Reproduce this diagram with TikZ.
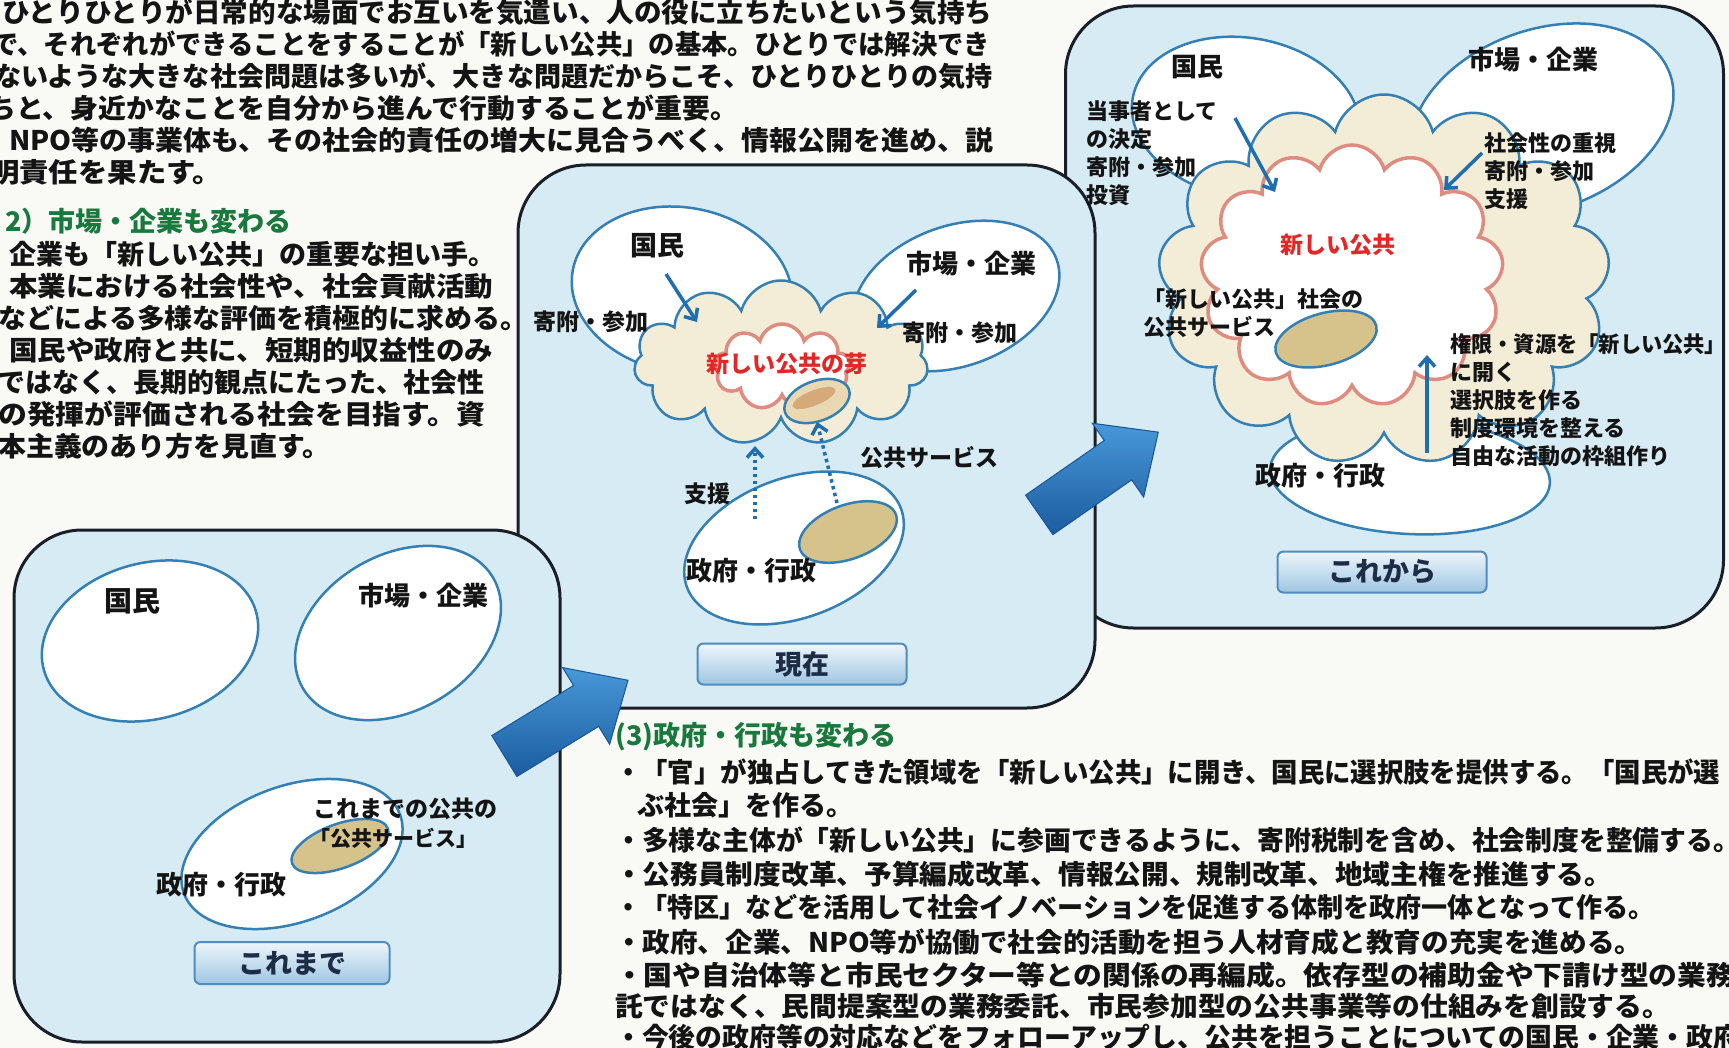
\documentclass[tikz,border=0pt]{standalone}
\usepackage{fontspec}
\usepackage{graphicx}
\setmainfont{Noto Sans CJK JP}
\usetikzlibrary{shapes.geometric,shapes.symbols,shapes.arrows,arrows.meta}
\definecolor{paper}{RGB}{249,249,246}
\definecolor{panelfill}{RGB}{214,235,243}
\definecolor{panelline}{RGB}{25,30,40}
\definecolor{ovalline}{RGB}{52,128,180}
\definecolor{cream}{RGB}{243,236,215}
\definecolor{pinkline}{RGB}{222,140,128}
\definecolor{svctan}{RGB}{214,195,140}
\definecolor{tanlight}{RGB}{234,216,178}
\definecolor{tandark}{RGB}{214,170,120}
\definecolor{arrowblue}{RGB}{31,110,176}
\definecolor{bigarrowlight}{RGB}{72,152,216}
\definecolor{bigarrowdark}{RGB}{26,92,160}
\definecolor{bigarrowline}{RGB}{25,85,150}
\definecolor{btntop}{RGB}{238,246,251}
\definecolor{btnbot}{RGB}{158,198,226}
\definecolor{btnline}{RGB}{80,140,190}
\definecolor{btntext}{RGB}{30,45,70}
\definecolor{headgreen}{RGB}{25,120,60}
\definecolor{redtext}{RGB}{228,38,38}
\definecolor{ink}{RGB}{20,20,20}
\newcommand{\fitw}[2]{\resizebox{#1pt}{\height}{#2}}
\newcommand{\jfs}[2]{\fontsize{#1}{#2}\selectfont\bfseries}
\begin{document}
\begin{tikzpicture}[x=1pt,y=-1pt,
 panel/.style={rectangle, draw=panelline, line width=3pt, fill=panelfill, rounded corners=68pt, inner sep=0pt},
 oval/.style={ellipse, draw=ovalline, line width=2.5pt, fill=white, inner sep=0pt},
 tanoval/.style={ellipse, draw=ovalline, line width=2.5pt, fill=svctan, inner sep=0pt},
 creamcloud/.style={cloud, cloud ignores aspect, draw=ovalline, line width=2.5pt, fill=cream, inner sep=0pt},
 pinkcloud/.style={cloud, cloud ignores aspect, draw=pinkline, line width=3.5pt, fill=white, inner sep=0pt},
 lbl/.style={inner sep=0pt, text=ink, font={\jfs{26}{30}}},
 small/.style={inner sep=0pt, text=ink, font={\jfs{23}{28}}, align=left},
 csmall/.style={inner sep=0pt, text=ink, font={\jfs{22}{28}}, align=left, anchor=north west},
 body/.style={inner sep=0pt, anchor=west, text=ink, font={\jfs{27}{30}}},
 head/.style={inner sep=0pt, anchor=west, text=headgreen, font={\jfs{27}{30}}},
 btn/.style={rectangle, rounded corners=6pt, draw=btnline, line width=2pt, top color=btntop, bottom color=btnbot, text=btntext, font={\jfs{27}{30}}, inner sep=0pt},
 flow/.style={draw=arrowblue, line width=3.5pt, -{Straight Barb[length=9pt,width=16pt]}},
 dots/.style={draw=arrowblue, line width=3.5pt, dash pattern=on 3.5pt off 3.5pt, -{Straight Barb[length=9pt,width=16pt]}},
 bigarrow/.style={single arrow, single arrow head extend=21pt, single arrow tip angle=85, inner xsep=0pt, inner ysep=23.5pt, minimum height=145pt, top color=bigarrowlight, bottom color=bigarrowdark, draw=bigarrowline, line width=1pt},
]
\fill[paper] (0,0) rectangle (1729,1048);
\useasboundingbox (0,0) rectangle (1729,1048);

% ---------- top-left text ----------
\node[body] (p1) at (2,12) {\fitw{990}{ひとりひとりが日常的な場面でお互いを気遣い、人の役に立ちたいという気持ち}};
\node[body] (p2) at (-8,44) {\fitw{998}{で、それぞれができることをすることが「新しい公共」の基本。ひとりでは解決でき}};
\node[body] (p3) at (-6,76) {\fitw{998}{ないような大きな社会問題は多いが、大きな問題だからこそ、ひとりひとりの気持}};
\node[body] (p4) at (-12,108) {\fitw{750}{ちと、身近かなことを自分から進んで行動することが重要。}};
\node[body] (p5) at (9,140) {\fitw{984}{NPO等の事業体も、その社会的責任の増大に見合うべく、情報公開を進め、説}};
\node[body] (p6) at (-10,172) {\fitw{232}{明責任を果たす。}};

\node[head] (h2) at (5,221) {2）市場・企業も変わる};
\node[body] (s1) at (9,254) {企業も「新しい公共」の重要な担い手。};
\node[body] (s2) at (9,286) {\fitw{484}{本業における社会性や、社会貢献活動}};
\node[body] (s3) at (-2,318) {\fitw{530}{などによる多様な評価を積極的に求める。}};
\node[body] (s4) at (9,350) {\fitw{484}{国民や政府と共に、短期的収益性のみ}};
\node[body] (s5) at (-2,382) {ではなく、長期的観点にたった、社会性};
\node[body] (s6) at (-2,414) {\fitw{487}{の発揮が評価される社会を目指す。資}};
\node[body] (s7) at (-2,446) {\fitw{332}{本主義のあり方を見直す。}};

% ---------- panel C (これから) ----------
\node[panel, minimum width=658, minimum height=622] (pC) at (1394.5,317) {};
\node[oval, minimum width=230, minimum height=160, rotate=-10] (cK) at (1246,118) {};
\node[oval, minimum width=272, minimum height=180, rotate=20] (cS) at (1542,120) {};
\node[oval, minimum width=280, minimum height=116, rotate=-3] (cG) at (1410,476) {};
\node[creamcloud, cloud puffs=13, minimum width=452, minimum height=371] (cCloud) at (1384,280) {};
\node[pinkcloud, cloud puffs=13, minimum width=303, minimum height=262] (cCore) at (1352,276) {};
\node[tanoval, minimum width=104, minimum height=52, rotate=15] (cSvc) at (1326,339) {};
\node[lbl] (cKL) at (1197,67) {国民};
\node[lbl] (cSL) at (1533,60) {市場・企業};
\node[lbl, text=redtext, font={\jfs{23}{28}}] (cCoreL) at (1338,245) {新しい公共};
\node[csmall] (cStxt) at (1484,132) {社会性の重視\\寄附・参加\\支援};
\node[csmall] (cSvcL) at (1143,288) {「新しい公共」社会の\\公共サービス};
\node[csmall] (cGtxt) at (1450,333) {\fitw{276}{権限・資源を「新しい公共」}\\に開く\\選択肢を作る\\制度環境を整える\\自由な活動の枠組作り};
\node[lbl] (cGL) at (1320,476) {政府・行政};
\coordinate (cKa) at (1235,118); \coordinate (cKb) at (1275,192);
\coordinate (cSa) at (1482,153); \coordinate (cSb) at (1444,190);
\coordinate (cGa) at (1427,453); \coordinate (cGb) at (1427,355);
\draw[flow] (cKa) -- (cKb);
\draw[flow] (cSa) -- (cSb);
\draw[flow] (cGa) -- (cGb);
\node[btn, minimum width=209, minimum height=41] (cBtn) at (1382,572) {これから};

% ---------- panel B (現在) ----------
\node[panel, minimum width=577, minimum height=543] (pB) at (806.5,436.5) {};
\node[oval, minimum width=222, minimum height=165, rotate=-10] (bK) at (682,290) {};
\node[oval, minimum width=214, minimum height=140, rotate=20] (bS) at (956,296) {};
\node[creamcloud, cloud puffs=11, minimum width=294, minimum height=165] (bCloud) at (781,363) {};
\node[pinkcloud, cloud puffs=9, minimum width=136, minimum height=86] (bCore) at (782,367) {};
\node[ellipse, draw=ovalline, line width=2.5pt, fill=tanlight, inner sep=0pt, minimum width=68, minimum height=40, rotate=20] (bSeed) at (817,401) {};
\node[ellipse, fill=tandark, inner sep=0pt, minimum width=46, minimum height=15, rotate=22] (bBean) at (814,398) {};
\node[oval, minimum width=228, minimum height=140, rotate=20] (bG) at (794,548) {};
\node[tanoval, minimum width=102, minimum height=54, rotate=20] (bSvc) at (848,532) {};
\node[lbl, font={\jfs{27}{30}}] (bKL) at (657,246) {国民};
\node[lbl] (bSL) at (971,264) {市場・企業};
\node[small] (bKd) at (591,322) {寄附・参加};
\node[small] (bSd) at (960,333) {寄附・参加};
\node[small, text=redtext] (bCoreL) at (787,364) {新しい公共の芽};
\node[small] (bSvcL) at (929,458) {公共サービス};
\node[small] (bSup) at (707,494) {支援};
\node[lbl] (bGL) at (751,571) {政府・行政};
\coordinate (bKa) at (666,274); \coordinate (bKb) at (697,322);
\coordinate (bSa) at (916,290); \coordinate (bSb) at (877,328);
\coordinate (bD1a) at (755,519); \coordinate (bD1b) at (755,446);
\coordinate (bD2a) at (837,503); \coordinate (bD2b) at (817,422);
\draw[flow] (bKa) -- (bKb);
\draw[flow] (bSa) -- (bSb);
\draw[dots] (bD1a) -- (bD1b);
\draw[dots] (bD2a) -- (bD2b);
\node[btn, minimum width=209, minimum height=41] (bBtn) at (802,664) {現在};

% ---------- panel A (これまで) ----------
\node[panel, minimum width=546, minimum height=512] (pA) at (287,786) {};
\node[oval, minimum width=220, minimum height=156, rotate=15] (aK) at (150,641) {};
\node[oval, minimum width=220, minimum height=156, rotate=30] (aS) at (398,633) {};
\node[oval, minimum width=230, minimum height=136, rotate=20] (aG) at (292,854) {};
\node[tanoval, minimum width=102, minimum height=44, rotate=20] (aSvc) at (340,846) {};
\node[lbl, font={\jfs{28}{30}}] (aKL) at (132,601) {国民};
\node[lbl] (aSL) at (423,596) {市場・企業};
\node[small] (aSvcL1) at (405,809) {これまでの公共の};
\node[small, font={\jfs{21}{26}}] (aSvcL2) at (393,838) {「公共サービス」};
\node[lbl] (aGL) at (221,885) {政府・行政};
\node[btn, minimum width=195, minimum height=42] (aBtn) at (292,963) {これまで};

% ---------- big arrows ----------
\node[bigarrow, rotate=31.5] (arAB) at (555,725) {};
\node[bigarrow, rotate=34.8] (arBC) at (1088,481) {};

% panel C left text (over panel B corner)
\node[csmall] (cKtxt) at (1086,100) {当事者として\\の決定\\寄附・参加\\投資};

% ---------- section 3 ----------
\node[head] (h3) at (615,737) {(3)政府・行政も変わる};
\node[body] (b1) at (615,772) {\fitw{1105}{・「官」が独占してきた領域を「新しい公共」に開き、国民に選択肢を提供する。「国民が選}};
\node[body] (b2) at (637,805) {ぶ社会」を作る。};
\node[body] (b3) at (615,840) {\fitw{1125}{・多様な主体が「新しい公共」に参画できるように、寄附税制を含め、社会制度を整備する。}};
\node[body] (b4) at (615,874) {\fitw{997}{・公務員制度改革、予算編成改革、情報公開、規制改革、地域主権を推進する。}};
\node[body] (b5) at (615,907) {\fitw{1039}{・「特区」などを活用して社会イノベーションを促進する体制を政府一体となって作る。}};
\node[body] (b6) at (615,942) {\fitw{1027}{・政府、企業、NPO等が協働で社会的活動を担う人材育成と教育の充実を進める。}};
\node[body] (b7) at (615,975) {\fitw{1120}{・国や自治体等と市民セクター等との関係の再編成。依存型の補助金や下請け型の業務}};
\node[body] (b8) at (615,1006) {\fitw{1055}{託ではなく、民間提案型の業務委託、市民参加型の公共事業等の仕組みを創設する。}};
\node[body] (b9) at (615,1037) {\fitw{1125}{・今後の政府等の対応などをフォローアップし、公共を担うことについての国民・企業・政府}};
\end{tikzpicture}
\end{document}
